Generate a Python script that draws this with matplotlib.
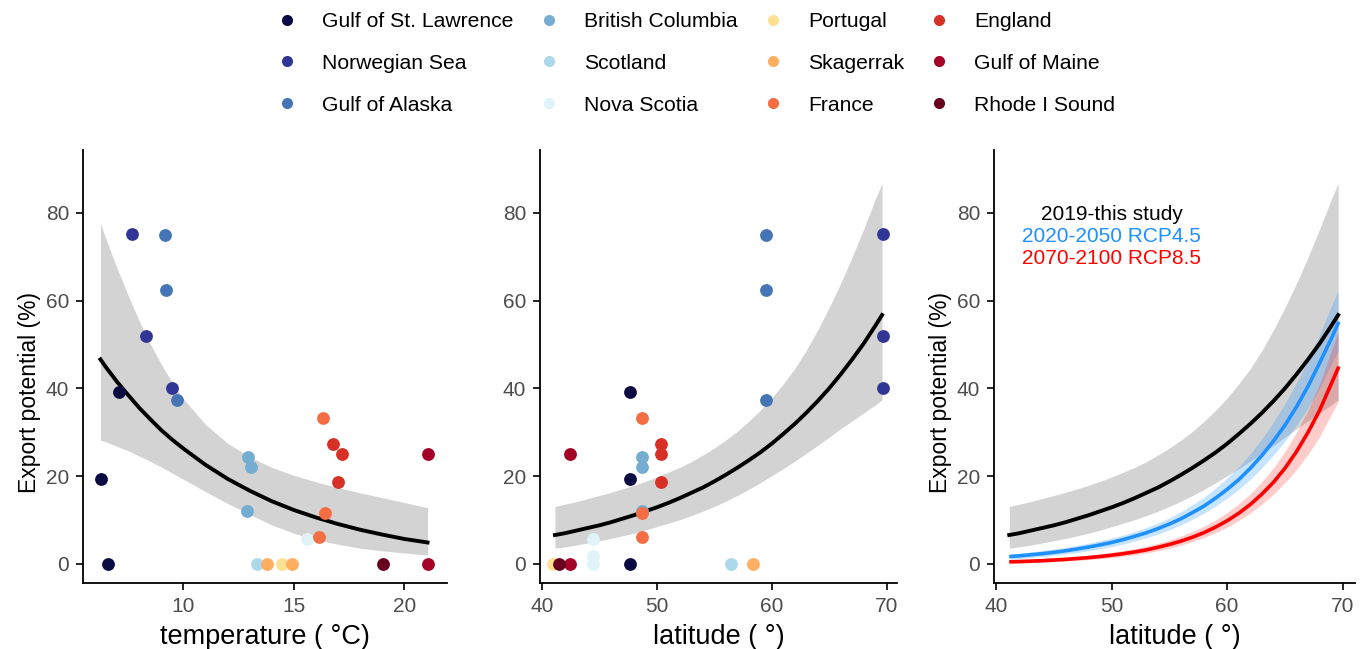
import numpy as np
import matplotlib.pyplot as plt
from matplotlib.lines import Line2D

plt.rcParams['font.family'] = ['Liberation Sans', 'DejaVu Sans']

# sites in legend order (column-major, 4 columns x 3 rows)
sites = ["Gulf of St. Lawrence", "Norwegian Sea", "Gulf of Alaska",
         "British Columbia", "Scotland", "Nova Scotia",
         "Portugal", "Skagerrak", "France",
         "England", "Gulf of Maine", "Rhode I Sound"]
site_colors = ["#0a0a42", "#313695", "#4575b4",
               "#74add1", "#abd9e9", "#e0f3f8",
               "#fee090", "#fdae61", "#f46d43",
               "#d73027", "#a50026", "#67001f"]

# panel 1: temperature vs export potential
temp_site = (["Gulf of St. Lawrence"] * 3 + ["Norwegian Sea"] * 3 + ["Gulf of Alaska"] * 3
             + ["British Columbia"] * 3 + ["Scotland", "Nova Scotia", "Portugal"]
             + ["Skagerrak"] * 2 + ["France"] * 3 + ["England"] * 3
             + ["Gulf of Maine"] * 2 + ["Rhode I Sound"])
temp_x = [7.10, 6.26, 6.59, 7.69, 8.31, 9.50, 9.19, 9.22, 9.73,
          12.91, 13.05, 12.87, 13.32, 15.58, 14.48, 13.77, 14.90,
          16.34, 16.41, 16.13, 16.79, 17.17, 16.99, 21.06, 21.06, 19.05]
temp_y = [39.2, 19.4, 0, 75.2, 51.9, 40.0, 74.9, 62.4, 37.4,
          24.3, 22.2, 12.1, 0, 5.6, 0, 0, 0,
          33.3, 11.5, 6.2, 27.3, 25.1, 18.7, 25.1, 0, 0]

temp_fit_x = [6.25, 6.5, 7, 7.5, 8, 8.5, 9, 9.5, 10, 11, 12, 13, 14, 15, 16, 17, 18, 19, 20, 21.05]
temp_fit = [46.6, 44.8, 41.5, 38.5, 35.6, 33.0, 30.5, 28.3, 26.3, 22.6,
            19.4, 16.7, 14.3, 12.3, 10.6, 9.1, 7.8, 6.7, 5.7, 4.9]
temp_hi = [77.5, 74.0, 67.4, 61.2, 55.4, 50.2, 45.5, 41.3, 37.6, 31.8,
           27.5, 24.4, 22.0, 20.2, 18.7, 17.4, 16.2, 15.1, 14.0, 12.8]
temp_lo = [28.2, 27.8, 26.8, 25.8, 24.6, 23.4, 22.1, 20.7, 19.3, 16.5,
           13.8, 11.3, 8.9, 7.0, 5.5, 4.5, 3.6, 3.0, 2.5, 2.05]

# panel 2: latitude vs export potential
lat_site = (["Gulf of St. Lawrence"] * 3 + ["Norwegian Sea"] * 3 + ["Gulf of Alaska"] * 3
            + ["British Columbia"] * 3 + ["Scotland"] + ["Nova Scotia"] * 3
            + ["Portugal", "Skagerrak"] + ["France"] * 3 + ["England"] * 3
            + ["Gulf of Maine"] * 2 + ["Rhode I Sound"])
lat_x = [47.68, 47.68, 47.68, 69.65, 69.65, 69.65, 59.5, 59.5, 59.5,
         48.72, 48.72, 48.72, 56.49, 44.49, 44.49, 44.49, 41.0, 58.4,
         48.72, 48.72, 48.72, 50.35, 50.35, 50.35, 42.46, 42.46, 41.5]
lat_y = [39.2, 19.4, 0, 75.2, 51.9, 40.0, 74.9, 62.4, 37.4,
         24.3, 22.2, 12.1, 0, 5.6, 1.8, 0, 0, 0,
         33.3, 11.5, 6.2, 27.3, 25.1, 18.7, 25.1, 0, 0]

lat_fit_x = [41.15, 42, 43, 44, 45, 46, 47, 48, 49, 50, 51, 52, 53, 54, 55,
             56, 57, 58, 59, 60, 61, 62, 63, 64, 65, 66, 67, 68, 69, 69.6]
lat_fit = [6.6, 7.0, 7.6, 8.2, 8.8, 9.5, 10.3, 11.1, 12.0, 12.9, 13.9, 15.0, 16.2, 17.4, 18.8,
           20.3, 21.9, 23.6, 25.4, 27.4, 29.6, 31.9, 34.4, 37.1, 40.0, 43.2, 46.6, 50.2, 54.2, 56.7]
lat_hi = [13.1, 13.6, 14.2, 14.9, 15.6, 16.3, 17.1, 17.9, 18.8, 19.8, 20.9, 22.0, 23.3, 24.8, 26.4,
          28.2, 30.2, 32.5, 35.0, 37.8, 41.0, 44.5, 48.6, 53.3, 58.4, 63.9, 69.9, 76.3, 83.0, 86.7]
lat_lo = [3.6, 3.9, 4.3, 4.8, 5.3, 5.8, 6.4, 7.0, 7.7, 8.5, 9.3, 10.1, 11.0, 12.0, 13.1,
          14.3, 15.6, 17.0, 18.5, 20.1, 21.7, 23.4, 25.2, 27.0, 28.9, 30.8, 32.6, 34.4, 36.2, 37.4]

# panel 3: projections
proj_x = [41.3, 42, 43, 44, 45, 46, 47, 48, 49, 50, 51, 52, 53, 54, 55,
          56, 57, 58, 59, 60, 61, 62, 63, 64, 65, 66, 67, 68, 69, 69.6]
rcp45 = [1.7, 1.85, 2.1, 2.35, 2.65, 3.0, 3.4, 3.85, 4.35, 4.9, 5.55, 6.3, 7.1, 8.05, 9.1,
         10.3, 11.7, 13.2, 15.0, 17.0, 19.2, 21.8, 24.7, 28.0, 31.6, 35.8, 40.5, 45.8, 51.3, 54.8]
rcp45_hi = [2.3, 2.45, 2.75, 3.05, 3.4, 3.8, 4.25, 4.75, 5.3, 5.9, 6.6, 7.4, 8.3, 9.3, 10.5,
            11.9, 13.5, 15.2, 17.3, 19.6, 22.1, 25.1, 28.5, 32.3, 36.5, 41.3, 46.5, 52.3, 58.6, 62.4]
rcp45_lo = [1.1, 1.25, 1.45, 1.7, 1.95, 2.25, 2.6, 3.0, 3.45, 3.95, 4.5, 5.2, 5.95, 6.8, 7.8,
            8.95, 10.2, 11.6, 13.2, 15.0, 17.0, 19.3, 21.9, 24.8, 28.0, 31.6, 35.6, 40.0, 45.5, 48.5]
rcp85 = [0.5, 0.55, 0.65, 0.75, 0.9, 1.05, 1.25, 1.45, 1.7, 2.0, 2.35, 2.75, 3.2, 3.8, 4.45,
         5.2, 6.1, 7.15, 8.4, 9.85, 11.55, 13.55, 15.9, 18.6, 21.8, 25.6, 30.0, 35.0, 41.0, 44.6]
rcp85_hi = [0.9, 0.95, 1.05, 1.2, 1.35, 1.55, 1.75, 2.0, 2.3, 2.65, 3.05, 3.5, 4.05, 4.7, 5.45,
            6.35, 7.4, 8.6, 10.05, 11.7, 13.7, 16.0, 18.7, 21.9, 25.6, 30.0, 35.1, 41.0, 48.5, 52.9]
rcp85_lo = [0.15, 0.2, 0.3, 0.4, 0.5, 0.65, 0.8, 1.0, 1.2, 1.45, 1.75, 2.1, 2.5, 3.0, 3.6,
            4.3, 5.1, 6.05, 7.15, 8.4, 9.9, 11.6, 13.6, 15.9, 18.5, 21.5, 25.0, 29.0, 34.0, 37.0]

scenario_labels = ["2019-this study", "2020-2050 RCP4.5", "2070-2100 RCP8.5"]

color_of = dict(zip(sites, site_colors))
band_gray = "#d3d3d3"
blue = "#1e90ff"
red = "#ff0000"
tick_gray = "#4d4d4d"


def style_axes(ax, xlim, xticks):
    ax.set_xlim(*xlim)
    ax.set_ylim(-4.33, 94.3)
    ax.set_xticks(xticks)
    ax.set_yticks([0, 20, 40, 60, 80])
    for s in ['top', 'right']:
        ax.spines[s].set_visible(False)
    for s in ['left', 'bottom']:
        ax.spines[s].set_linewidth(1.3)
    ax.tick_params(labelsize=15, labelcolor=tick_gray, color='black',
                   length=5, width=1.2, pad=5)


def scatter_sites(ax, site_list, xs, ys):
    for name in sites:
        idx = [i for i, s in enumerate(site_list) if s == name]
        ax.scatter([xs[i] for i in idx], [ys[i] for i in idx], s=85,
                   color=color_of[name], linewidths=0, zorder=3)


fig = plt.figure(figsize=(13.66, 6.49), dpi=100)
ax1 = fig.add_axes([83 / 1366, 0.1017, 364 / 1366, 0.6672])
ax2 = fig.add_axes([540 / 1366, 0.1017, 357 / 1366, 0.6672])
ax3 = fig.add_axes([994 / 1366, 0.1017, 361 / 1366, 0.6672])

# temperature panel
ax1.fill_between(temp_fit_x, temp_lo, temp_hi, color=band_gray, lw=0, zorder=1)
ax1.plot(temp_fit_x, temp_fit, color='black', lw=2.8, zorder=2)
scatter_sites(ax1, temp_site, temp_x, temp_y)
style_axes(ax1, (5.46, 21.93), [10, 15, 20])
ax1.set_xlabel("temperature ( °C)", fontsize=19.5, labelpad=6)
ax1.set_ylabel("Export potential (%)", fontsize=16.5)
ax1.yaxis.set_label_coords(-0.115, 0.441)

# latitude panel
ax2.fill_between(lat_fit_x, lat_lo, lat_hi, color=band_gray, lw=0, zorder=1)
ax2.plot(lat_fit_x, lat_fit, color='black', lw=2.8, zorder=2)
scatter_sites(ax2, lat_site, lat_x, lat_y)
style_axes(ax2, (39.85, 70.9), [40, 50, 60, 70])
ax2.set_xlabel("latitude ( °)", fontsize=19.5, labelpad=6)

# projection panel
ax3.fill_between(lat_fit_x, lat_lo, lat_hi, color=band_gray, lw=0, zorder=1)
ax3.fill_between(proj_x, rcp45_lo, rcp45_hi, color=blue, alpha=0.25, lw=0, zorder=2)
ax3.fill_between(proj_x, rcp85_lo, rcp85_hi, color=red, alpha=0.2, lw=0, zorder=2)
ax3.plot(lat_fit_x, lat_fit, color='black', lw=2.8, zorder=3)
ax3.plot(proj_x, rcp45, color=blue, lw=2.6, zorder=3)
ax3.plot(proj_x, rcp85, color=red, lw=2.6, zorder=3)
style_axes(ax3, (39.83, 71.06), [40, 50, 60, 70])
ax3.set_xlabel("latitude ( °)", fontsize=19.5, labelpad=6)
ax3.set_ylabel("Export potential (%)", fontsize=16.5)
ax3.yaxis.set_label_coords(-0.116, 0.441)
for label, c, yy in zip(scenario_labels, ['black', blue, red], [79.7, 74.6, 69.6]):
    ax3.text(50.0, yy, label, color=c, fontsize=15, ha='center', va='center')

# shared legend on top
handles = [Line2D([], [], ls='none', marker='o', markersize=8, markeredgewidth=0,
                  color=c) for c in site_colors]
fig.legend(handles, sites, ncol=4, loc='upper left', frameon=False,
           bbox_to_anchor=(268 / 1366, 0.9946), fontsize=15.2,
           handlelength=1.0, handletextpad=1.18, columnspacing=1.15,
           labelspacing=1.08, borderaxespad=0)

fig.savefig('out.png', dpi=100)
